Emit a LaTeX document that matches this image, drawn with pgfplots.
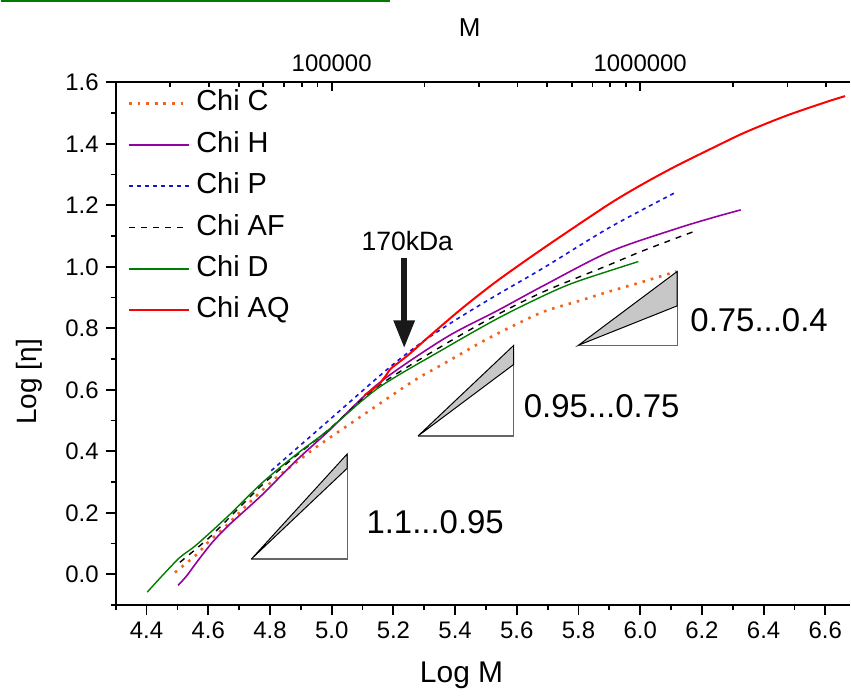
\documentclass[border=0pt]{standalone}
\usepackage{fontspec}
\setmainfont{Liberation Sans}
\usepackage{pgfplots}
\pgfplotsset{compat=1.18}
\usetikzlibrary{arrows.meta}
\definecolor{cC}{RGB}{240,100,30}
\definecolor{cH}{RGB}{150,0,160}
\definecolor{cP}{RGB}{20,20,220}
\definecolor{cD}{RGB}{0,125,0}
\definecolor{cAQ}{RGB}{255,0,0}
\definecolor{barG}{RGB}{0,125,0}

\pgfplotsset{
  common/.style={
    width=368pt, height=262pt, scale only axis,
    xmin=4.3, xmax=6.68, ymin=-0.1, ymax=1.6,
    tick style={black, line width=0.9pt},
    axis line style={line width=1pt},
    /pgf/number format/assume math mode=true,
  },
}

\begin{document}
\begin{tikzpicture}
\begin{axis}[common, name=main,
  axis x line*=bottom, axis y line*=left,
  tick align=outside,
  major tick length=5pt, minor tick length=2.5pt,
  xtick={4.4,4.6,4.8,5.0,5.2,5.4,5.6,5.8,6.0,6.2,6.4,6.6},
  minor xtick={4.3,4.5,4.7,4.9,5.1,5.3,5.5,5.7,5.9,6.1,6.3,6.5},
  ytick={0,0.2,0.4,0.6,0.8,1.0,1.2,1.4,1.6},
  minor ytick={-0.1,0.1,0.3,0.5,0.7,0.9,1.1,1.3,1.5},
  xticklabel style={/pgf/number format/.cd, fixed, fixed zerofill, precision=1, /tikz/.cd, font=\fontsize{12}{14}\selectfont},
  yticklabel style={/pgf/number format/.cd, fixed, fixed zerofill, precision=1, /tikz/.cd, font=\fontsize{12}{14}\selectfont},
  xlabel={Log M}, ylabel={Log [η]},
  xlabel style={font=\fontsize{15}{17}\selectfont, at={(rel axis cs:0.471,-0.135)}, anchor=center},
  ylabel style={font=\fontsize{14}{16}\selectfont, at={(rel axis cs:-0.118,0.427)}, anchor=center},
  legend style={at={(rel axis cs:0.016,0.99)}, anchor=north west, draw=none, fill=none,
    inner sep=0pt, font=\fontsize{14.5}{16}\selectfont, row sep=5.25pt,
    nodes={text height=10.5pt, text depth=3pt, inner ysep=1pt, inner xsep=3pt}},
  legend cell align=left,
  legend image code/.code={\draw[#1] (0pt,0pt) -- (30pt,0pt);},
]
% Chi C
\addplot[cC, smooth, tension=0.5, line width=1.3pt, dash pattern=on 1.3pt off 3pt] coordinates {
(4.492,0.006) (4.563,0.065) (4.595,0.100) (4.659,0.159) (4.743,0.243)
(4.820,0.314) (4.884,0.363) (4.952,0.415) (5.087,0.508) (5.264,0.628)
(5.367,0.687) (5.496,0.761) (5.592,0.810) (5.689,0.855) (5.795,0.887)
(5.901,0.920) (6.011,0.952) (6.117,0.985)};
\addlegendentry{Chi C}
% Chi H
\addplot[cH, smooth, tension=0.5, line width=0.8pt] coordinates {
(4.502,-0.036) (4.530,-0.005) (4.563,0.040) (4.614,0.105) (4.669,0.162) (4.775,0.259)
(4.884,0.369) (4.990,0.466) (5.151,0.620) (5.367,0.768) (5.538,0.858)
(5.689,0.940) (5.901,1.049) (6.117,1.124) (6.246,1.163) (6.326,1.185)};
\addlegendentry{Chi H}
% Chi P
\addplot[cP, smooth, tension=0.5, line width=0.8pt, dash pattern=on 2pt off 2pt] coordinates {
(4.804,0.337) (4.981,0.492) (5.184,0.670) (5.300,0.760) (5.419,0.838) (5.538,0.910)
(5.689,0.998) (5.901,1.128) (6.111,1.240)};
\addlegendentry{Chi P}
% Chi AF
\addplot[black, smooth, tension=0.5, line width=0.7pt, dash pattern=on 3pt off 3pt] coordinates {
(4.508,0.039) (4.604,0.120) (4.669,0.185) (4.775,0.291) (4.884,0.385)
(4.990,0.470) (5.151,0.612) (5.367,0.748) (5.538,0.845) (5.689,0.920)
(5.901,1.007) (6.011,1.053) (6.172,1.114)};
\addlegendentry{Chi AF}
% Chi D
\addplot[cD, smooth, tension=0.5, line width=0.7pt] coordinates {
(4.402,-0.058) (4.455,0.000) (4.508,0.055) (4.563,0.097) (4.669,0.194) (4.775,0.298)
(4.884,0.389) (4.990,0.470) (5.151,0.606) (5.367,0.735) (5.538,0.832)
(5.689,0.907) (5.795,0.952) (5.994,1.017)};
\addlegendentry{Chi D}
% Chi AQ
\addplot[cAQ, smooth, tension=0.5, line width=1pt] coordinates {
(5.107,0.583) (5.150,0.615) (5.177,0.648) (5.193,0.670) (5.248,0.713) (5.312,0.770)
(5.419,0.862) (5.528,0.948) (5.634,1.024) (5.731,1.091) (5.901,1.205)
(6.010,1.270) (6.117,1.328) (6.246,1.392) (6.342,1.438) (6.470,1.490) (6.600,1.535) (6.664,1.555)};
\addlegendentry{Chi AQ}

% slope triangles
\addplot[forget plot, draw=black!60, line width=0.6pt] coordinates {(4.74,0.05) (5.05,0.05) (5.05,0.391)};
\addplot[forget plot, draw=black, fill=black!22, line width=0.5pt] coordinates {(4.74,0.05) (5.05,0.391) (5.05,0.3445)} -- cycle;
\addplot[forget plot, draw=black!60, line width=0.6pt] coordinates {(5.28,0.45) (5.59,0.45) (5.59,0.7445)};
\addplot[forget plot, draw=black, fill=black!22, line width=0.5pt] coordinates {(5.28,0.45) (5.59,0.7445) (5.59,0.6825)} -- cycle;
\addplot[forget plot, draw=black!60, line width=0.6pt] coordinates {(5.80,0.745) (6.12,0.745) (6.12,0.985)};
\addplot[forget plot, draw=black, fill=black!22, line width=0.5pt] coordinates {(5.80,0.745) (6.12,0.985) (6.12,0.873)} -- cycle;

\node[anchor=west, font=\fontsize{16.5}{18}\selectfont] at (axis cs:5.09,0.17) {1.1...0.95};
\node[anchor=west, font=\fontsize{16.5}{18}\selectfont] at (axis cs:5.60,0.548) {0.95...0.75};
\node[anchor=west, font=\fontsize{16.5}{18}\selectfont] at (axis cs:6.14,0.827) {0.75...0.4};

\draw[black!90, line width=3pt, -{Triangle[width=10pt,length=14pt]}] (axis cs:5.235,1.03) -- (axis cs:5.235,0.735);
\node[font=\fontsize{13.3}{15}\selectfont] at (axis cs:5.245,1.085) {170kDa};
\end{axis}

\begin{axis}[common,
  axis x line*=top, hide y axis,
  tick align=inside,
  major tick length=4.5pt, minor tick length=2.5pt,
  xtick={5,6}, xticklabels={100000,1000000},
  minor xtick={4.30103,4.47712,4.60206,4.69897,4.77815,4.84510,4.90309,4.95424,
    5.30103,5.47712,5.60206,5.69897,5.77815,5.84510,5.90309,5.95424,
    6.30103,6.47712,6.60206},
  xticklabel style={font=\fontsize{12}{14}\selectfont, yshift=2pt},
  xlabel={M},
  xlabel style={font=\fontsize{13}{15}\selectfont, at={(rel axis cs:0.482,1.105)}, anchor=center},
]
\end{axis}
\draw[barG, line width=1pt] ([shift={(-57.5pt,40.75pt)}]main.north west) -- ++(195pt,0);
\end{tikzpicture}
\end{document}
